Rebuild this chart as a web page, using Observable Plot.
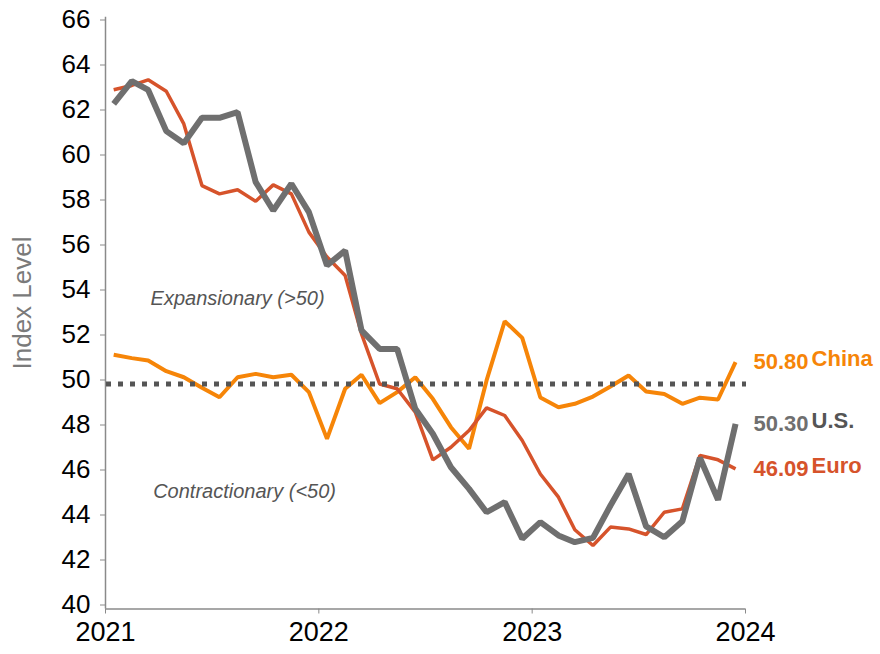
<!DOCTYPE html>
<html><head><meta charset="utf-8">
<script src="https://cdn.jsdelivr.net/npm/d3@7"></script>
<script src="https://cdn.jsdelivr.net/npm/@observablehq/plot@0.6"></script>
<style>
html,body{margin:0;padding:0;background:#fff;}
#chart svg{display:block;}
</style></head><body><div id="chart"></div>
<script>
// Monthly PMI readings, Jan 2021 – Dec 2023
const startDate = new Date(Date.UTC(2021, 0, 1));
const endDate = new Date(Date.UTC(2024, 0, 1));
const months = d3.utcMonths(startDate, endDate).map(d => d3.utcDay.offset(d, 14));

const usValues = [62.45, 63.46, 63.07, 61.24, 60.7, 61.83, 61.83, 62.08, 58.97, 57.71, 58.9, 57.64,
                  55.27, 55.93, 52.38, 51.56, 51.56, 48.9, 47.79, 46.3, 45.34, 44.3, 44.75, 43.12,
                  43.86, 43.27, 42.97, 43.16, 44.6, 46.0, 43.67, 43.19, 43.9, 46.72, 44.85, 48.23];
const euroValues = [63.08, 63.27, 63.52, 63.01, 61.56, 58.82, 58.45, 58.63, 58.12, 58.85, 58.45, 56.75,
                    55.64, 54.82, 52.23, 50.0, 49.79, 48.75, 46.63, 47.19, 47.93, 48.94, 48.6, 47.49,
                    46.0, 44.97, 43.52, 42.82, 43.64, 43.56, 43.31, 44.3, 44.45, 46.82, 46.63, 46.23];
const chinaValues = [51.3, 51.15, 51.04, 50.57, 50.3, 49.83, 49.41, 50.3, 50.45, 50.3, 50.41, 49.64,
                     47.56, 49.79, 50.41, 49.15, 49.64, 50.3, 49.34, 48.08, 47.12, 50.16, 52.79, 52.05,
                     49.4, 48.97, 49.12, 49.44, 49.89, 50.38, 49.67, 49.56, 49.12, 49.39, 49.31, 50.97];

const seriesNames = ["China", "Euro", "U.S."];
const endLabels = ["50.80", "46.09", "50.30"];
const seriesColors = ["#f68508", "#d6532b", "#6f6f6f"];
const nameColors = ["#f68508", "#d6532b", "#555555"];
const yTicks = [40, 42, 44, 46, 48, 50, 52, 54, 56, 58, 60, 62, 64, 66];
const xTickYears = [2021, 2022, 2023, 2024];
const threshold = [50];
const zoneLabels = ["Expansionary (>50)", "Contractionary (<50)"];
const axisTitle = "Index Level";

const allValues = [chinaValues, euroValues, usValues];
const rows = allValues.flatMap((vals, k) => vals.map((v, i) => ({date: months[i], value: v, series: seriesNames[k]})));
const lastRows = allValues.map((vals, k) => ({
  date: months[vals.length - 1], value: vals[vals.length - 1],
  series: seriesNames[k], label: endLabels[k], color: seriesColors[k], nameColor: nameColors[k]
}));
const xTickDates = xTickYears.map(y => new Date(Date.UTC(y, 0, 1)));

const font = "'Liberation Sans', Arial, Helvetica, sans-serif";

const chart = Plot.plot({
  width: 880,
  height: 654,
  marginLeft: 105,
  marginRight: 135,
  marginTop: 23.5,
  marginBottom: 45.5,
  style: {fontFamily: font, background: "#fff", color: "#000", overflow: "visible"},
  x: {type: "utc", domain: [startDate, endDate]},
  y: {domain: [40, 66]},
  color: {domain: seriesNames, range: seriesColors},
  marks: [
    Plot.ruleX([startDate], {y1: 40, y2: 66.3, stroke: "#8a8a8a", strokeWidth: 1.5}),
    Plot.ruleY([40], {x1: startDate, x2: endDate, stroke: "#8a8a8a", strokeWidth: 1.5}),
    Plot.axisY({ticks: yTicks, tickSize: 5, tickPadding: 10, fontSize: 26, dy: -4, label: null,
                stroke: "#8a8a8a", fill: "#000", tickFormat: d => String(d)}),
    Plot.axisX({ticks: xTickDates, tickSize: 5, tickPadding: 8, fontSize: 27, label: null,
                stroke: "#8a8a8a", fill: "#000", tickFormat: d3.utcFormat("%Y")}),
    Plot.text([axisTitle], {x: startDate, y: 53.6, dx: -83, rotate: -90, fontSize: 26,
                            fill: "#7a7a7a", textAnchor: "middle"}),
    Plot.text([zoneLabels[0]], {x: new Date(Date.UTC(2021, 7, 15)), y: 53.8, fontSize: 20,
                                fontStyle: "italic", fill: "#555", textAnchor: "middle"}),
    Plot.text([zoneLabels[1]], {x: new Date(Date.UTC(2021, 7, 27)), y: 45.2, fontSize: 20,
                                fontStyle: "italic", fill: "#555", textAnchor: "middle"}),
    Plot.line(rows.filter(d => d.series === "China"), {x: "date", y: "value", stroke: "series",
                strokeWidth: 4, strokeLinejoin: "miter", strokeLinecap: "butt", curve: "linear"}),
    Plot.line(rows.filter(d => d.series === "Euro"), {x: "date", y: "value", stroke: "series",
                strokeWidth: 3.5, strokeLinejoin: "miter", strokeLinecap: "butt"}),
    Plot.ruleY(threshold, {x1: startDate, x2: endDate, dx: 1, stroke: "#555", strokeWidth: 5,
                           strokeDasharray: "5,7"}),
    Plot.line(rows.filter(d => d.series === "U.S."), {x: "date", y: "value", stroke: "series",
                strokeWidth: 6, strokeLinejoin: "miter", strokeLinecap: "butt"}),
    Plot.text(lastRows, {x: "date", y: "value", text: "label", fill: "color", dx: 73,
                         textAnchor: "end", fontSize: 22, fontWeight: "bold"}),
    Plot.text(lastRows, {x: "date", y: "value", text: "series", fill: "nameColor", dx: 76, dy: -3,
                         textAnchor: "start", fontSize: 22, fontWeight: "bold"})
  ]
});
document.getElementById("chart").appendChild(chart);
</script>
</body></html>
